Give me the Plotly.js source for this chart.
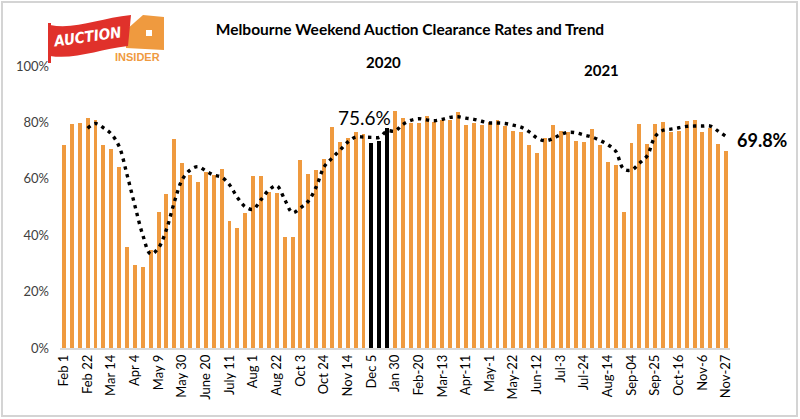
<!DOCTYPE html>
<html>
<head>
<meta charset="utf-8">
<script src="https://cdn.plot.ly/plotly-3.0.1.min.js"></script>
<style>html,body{margin:0;padding:0;background:#fff;}#chart{width:800px;height:419px;}</style>
</head>
<body>
<div id="chart"></div>
<script>
// Weekly clearance rates (%) — Feb 2020 to Nov 2021
const clearance = [
  72.0,79.3,79.9,81.4,80.7,72.0,70.4,64.3,35.8,29.4,28.8,34.8,48.4,54.5,74.1,65.5,61.5,58.8,62.5,61.5,63.4,
  45.1,42.7,47.7,61.1,60.9,55.2,55.0,39.2,39.4,66.7,61.8,63.0,67.0,78.3,73.1,74.3,76.7,75.9,72.8,73.4,77.9,
  84.0,81.6,79.8,79.8,82.2,80.0,80.8,80.9,83.8,79.0,79.8,79.0,80.0,80.7,78.8,77.0,76.7,72.1,69.0,74.5,79.0,77.0,
  76.7,73.4,73.0,77.6,71.9,65.9,64.8,48.2,72.7,79.4,72.3,79.4,80.1,76.7,77.0,80.5,80.7,76.7,77.9,72.4,69.8
];
// Trend (%)
const trend = [
  null,null,null,
  77.9,79.6,78.1,75.9,71.5,61.5,50.5,40.1,33.3,35.5,42.0,51.7,59.7,63.1,64.3,62.8,61.3,60.6,
  57.9,53.4,50.1,49.2,52.6,56.0,57.5,52.7,48.0,49.7,52.1,57.1,64.2,67.3,70.1,73.0,74.8,74.8,74.7,74.7,77.0,
  76.9,79.3,80.7,81.3,80.9,80.6,81.1,81.8,82.0,81.5,81.1,80.4,79.8,79.8,79.6,79.0,78.3,76.7,74.5,73.5,74.2,75.7,
  76.5,76.3,75.5,74.8,73.6,72.1,69.8,63.5,63.1,65.5,68.2,75.0,77.2,77.6,78.1,78.6,78.7,78.7,78.7,76.9,75.0
];
// Weeks highlighted in black
const highlightWeeks = [39,40,41];
// Tick labels, one every 3 weeks
const tickLabels = ["Feb 1","Feb 22","Mar 14","Apr 4","May 9","May 30","June 20","July 11","Aug 1","Aug 22",
  "Oct 3","Oct 24","Nov 14","Dec 5","Jan 30","Feb-20","Mar-13","Apr-11","May-1","May-22","Jun-12",
  "Jul-3","Jul-24","Aug-14","Sep-04","Sep-25","Oct-16","Nov-6","Nov-27"];
const yTicks = [0,20,40,60,80,100];

const weekIdx = clearance.map((_, i) => i);
const tickIdx = tickLabels.map((_, i) => i * 3);
const ORANGE = '#EF9A3F';
const barColors = weekIdx.map(i => highlightWeeks.includes(i) ? '#000000' : ORANGE);

// plot-area pixel -> paper helpers (for decorations)
const L = 60, R = 730, T = 66, B = 348;
const px = X => (X - L) / (R - L);
const py = Y => (B - Y) / (B - T);
const P = pts => pts.map((p, k) => (k === 0 ? 'M' : 'L') + px(p[0]).toFixed(4) + ',' + py(p[1]).toFixed(4)).join(' ') + ' Z';

const font = 'Lato, "Open Sans", sans-serif';

const traces = [
  {
    type: 'bar', x: weekIdx, y: clearance, width: 0.5,
    marker: {color: barColors, line: {width: 0}},
    hoverinfo: 'skip'
  },
  {
    type: 'scatter', mode: 'lines', x: weekIdx, y: trend,
    line: {color: '#000', width: 3.4, dash: '3.4px,4.6px', shape: 'spline', smoothing: 1},
    connectgaps: false, hoverinfo: 'skip'
  }
];

const layout = {
  width: 800, height: 419,
  margin: {l: L, r: 800 - R, t: T, b: 419 - B, pad: 0},
  paper_bgcolor: '#fff', plot_bgcolor: '#fff',
  showlegend: false, hovermode: false, bargap: 0,
  font: {family: font, color: '#262626'},
  title: {
    text: '<b>Melbourne Weekend Auction Clearance Rates and Trend</b>',
    font: {family: font, size: 15.5, color: '#000'},
    x: 410 / 800, xanchor: 'center', xref: 'container',
    y: 1 - 30 / 419, yanchor: 'middle', yref: 'container'
  },
  xaxis: {
    range: [-0.5, clearance.length - 0.5],
    tickmode: 'array', tickvals: tickIdx, ticktext: tickLabels,
    tickangle: -90, tickfont: {family: font, size: 13, color: '#000'},
    showgrid: false, zeroline: false,
    showline: true, linecolor: '#d9d9d9', linewidth: 1.5,
    ticks: '', fixedrange: true
  },
  yaxis: {
    range: [0, 100], tickmode: 'array', tickvals: yTicks, ticktext: yTicks.map(v => v + '%'),
    tickfont: {family: font, size: 13, color: '#404040'},
    showgrid: false, zeroline: false, showline: false, ticks: '',
    ticklabelstandoff: 10, fixedrange: true
  },
  annotations: [
    {text: '<b>2020</b>', xref: 'paper', yref: 'paper', x: px(383), y: py(62), showarrow: false,
     font: {family: font, size: 15, color: '#000'}, xanchor: 'center', yanchor: 'middle'},
    {text: '<b>2021</b>', xref: 'paper', yref: 'paper', x: px(601), y: py(70), showarrow: false,
     font: {family: font, size: 15, color: '#000'}, xanchor: 'center', yanchor: 'middle'},
    {text: '75.6%', xref: 'paper', yref: 'paper', x: px(364), y: py(117), showarrow: false,
     font: {family: font, size: 19, color: '#000'}, xanchor: 'center', yanchor: 'middle'},
    {text: '<b>69.8%</b>', xref: 'paper', yref: 'paper', x: px(763), y: py(140), showarrow: false,
     font: {family: font, size: 18, color: '#000'}, xanchor: 'center', yanchor: 'middle'},
    {text: '<b><i>AUCTION</i></b>', xref: 'paper', yref: 'paper', x: px(87), y: py(37), showarrow: false,
     textangle: -8, font: {family: '"Liberation Sans Narrow", "DejaVu Sans Condensed", sans-serif', size: 15, color: '#fff'},
     xanchor: 'center', yanchor: 'middle'},
    {text: '<b>INSIDER</b>', xref: 'paper', yref: 'paper', x: px(137), y: py(57), showarrow: false,
     font: {family: '"Liberation Sans", sans-serif', size: 11, color: '#EF9A3F'},
     xanchor: 'center', yanchor: 'middle'}
  ],
  shapes: [
    // outer frame
    {type: 'rect', xref: 'paper', yref: 'paper', x0: px(2), x1: px(797), y0: py(416), y1: py(2),
     line: {color: '#d4d4d4', width: 2}, layer: 'below'},
    // logo: house (orange)
    {type: 'path', xref: 'paper', yref: 'paper', layer: 'above',
     path: P([[126,30],[143,15],[164,17],[164,50],[126,48]]), fillcolor: '#EF9A3F', line: {width: 0}},
    {type: 'rect', xref: 'paper', yref: 'paper', x0: px(146), x1: px(152), y0: py(36), y1: py(30),
     fillcolor: '#fff', line: {width: 0}},
    // logo: flag pole + banner (red)
    {type: 'rect', xref: 'paper', yref: 'paper', x0: px(48), x1: px(51), y0: py(63), y1: py(23),
     fillcolor: '#E0312B', line: {width: 0}},
    {type: 'path', xref: 'paper', yref: 'paper', layer: 'above',
     path: 'M' + px(50) + ',' + py(25) + ' C' + px(75) + ',' + py(30) + ' ' + px(100) + ',' + py(18) + ' ' + px(131) + ',' + py(15) +
           ' L' + px(128) + ',' + py(46) + ' C' + px(100) + ',' + py(49) + ' ' + px(75) + ',' + py(60) + ' ' + px(50) + ',' + py(56) + ' Z',
     fillcolor: '#E0312B', line: {width: 0}}
  ]
};

Plotly.newPlot('chart', traces, layout, {staticPlot: true, displayModeBar: false});
</script>
</body>
</html>
